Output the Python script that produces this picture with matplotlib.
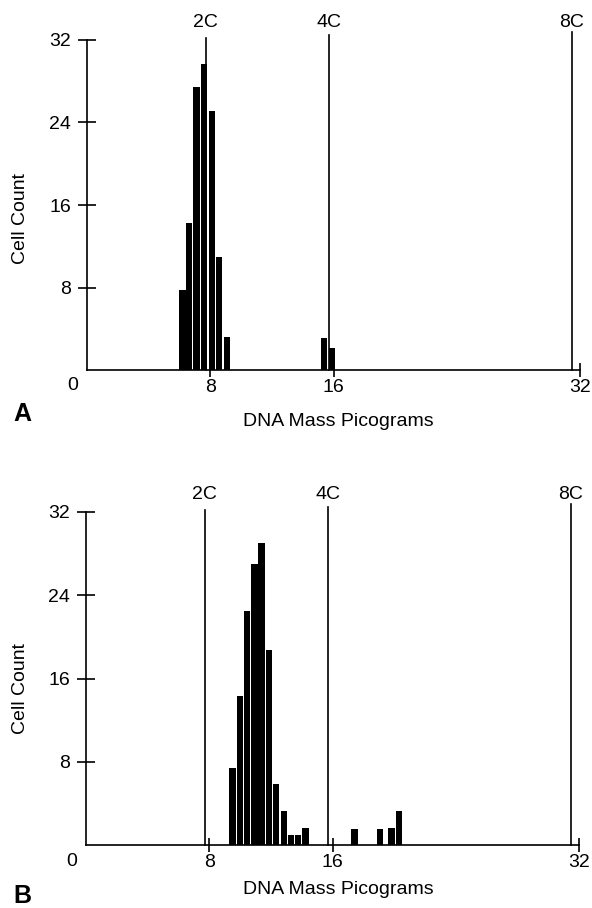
import matplotlib
matplotlib.use("Agg")
import matplotlib.pyplot as plt

plt.rcParams['font.family'] = ['Liberation Sans', 'DejaVu Sans']

# ---- data ----
a_centers = [6.2, 6.62, 7.10, 7.58, 8.12, 8.57, 9.09, 15.39, 15.90]
a_counts = [7.8, 14.3, 27.4, 29.7, 25.1, 11.0, 3.2, 3.1, 2.1]

b_centers = [9.50, 9.98, 10.45, 10.93, 11.38, 11.88, 12.32, 12.84, 13.31,
             13.77, 14.25, 17.43, 19.07, 19.82, 20.31]
b_counts = [7.4, 14.3, 22.5, 27.0, 29.0, 18.7, 5.9, 3.3, 1.0, 1.0, 1.6,
            1.5, 1.5, 1.6, 3.3]

ploidy_labels = ["2C", "4C", "8C"]
ploidy_pos = [7.72, 15.70, 31.45]
ploidy_top = [32.2, 32.5, 32.8]

x_ticks = [8, 16, 32]
y_ticks = [8, 16, 24, 32]

W, H = 592, 908
fig = plt.figure(figsize=(W / 100, H / 100), dpi=100)


def panel(rect, centers, counts, letter, letter_y, ylabel_y, xlabel_y):
    ax = fig.add_axes(rect)
    ax.bar(centers, counts, width=0.42, color='black', edgecolor='none',
           zorder=2)
    for lab, xp, top in zip(ploidy_labels, ploidy_pos, ploidy_top):
        ax.plot([xp, xp], [0, top], color='black', lw=1.2, clip_on=False,
                zorder=3)
        ax.text(xp, 33.7, lab, ha='center', va='center', fontsize=14)
    ax.set_xlim(0, 32)
    ax.set_ylim(0, 32)
    ax.set_xticks(x_ticks)
    ax.set_yticks(y_ticks)
    for s in ['top', 'right']:
        ax.spines[s].set_visible(False)
    for s in ['left', 'bottom']:
        ax.spines[s].set_linewidth(1.2)
    ax.tick_params(axis='y', direction='inout', length=13, width=1.2,
                   pad=5, labelsize=14)
    ax.tick_params(axis='x', direction='inout', length=9.5, width=1.2,
                   pad=2, labelsize=14)
    ax.text(-0.6, -1.55, "0", ha='right', va='center', fontsize=14)
    fig.text(21 / W, 1 - ylabel_y / H, "Cell Count", rotation=90,
             ha='center', va='center', fontsize=14)
    fig.text(338 / W, 1 - xlabel_y / H, "DNA Mass Picograms",
             ha='center', va='center', fontsize=14)
    fig.text(13 / W, 1 - letter_y / H, letter, ha='left', va='center',
             fontsize=18, fontweight='bold')
    return ax


panel([87 / W, 1 - 370 / H, 493 / W, 330 / H], a_centers, a_counts,
      "A", 414, 218, 422)
panel([86 / W, 1 - 845 / H, 493 / W, 333 / H], b_centers, b_counts,
      "B", 896, 689, 890)

fig.savefig("out.png", dpi=100)
